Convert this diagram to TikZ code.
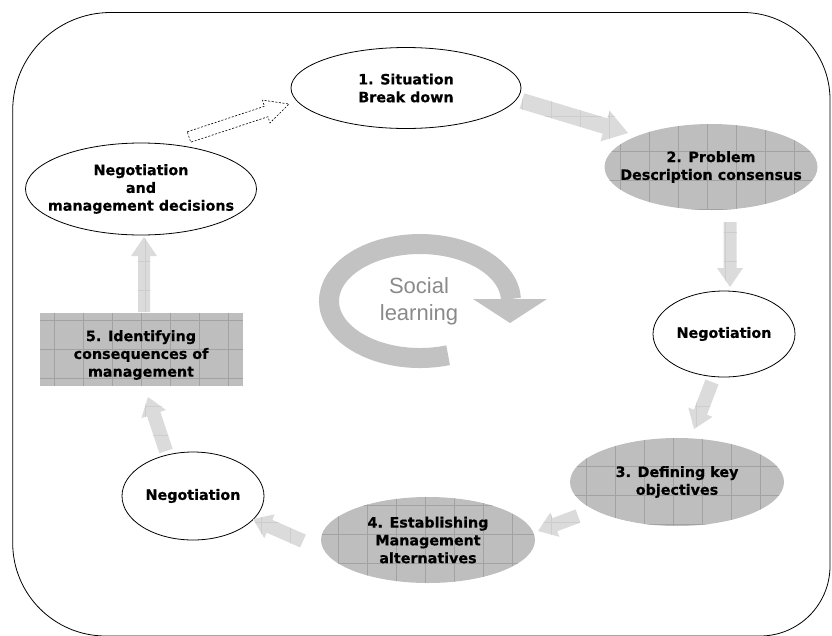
\documentclass[tikz,border=0pt]{standalone}
\usepackage{fontspec}
\setmainfont{DejaVu Sans}[BoldFont={DejaVu Sans Bold}]
\newfontfamily\arialf{Liberation Sans}
\newfontfamily\nodefont{DejaVu Sans Bold}[FakeBold=0.5]
\usetikzlibrary{shapes.geometric,calc}
\definecolor{texgray}{HTML}{BEBEBE}
\definecolor{texgrid}{HTML}{A2A2A2}
\definecolor{arrgray}{HTML}{DBDBDB}
\definecolor{arrgrid}{HTML}{CDCDCD}
\definecolor{ringgray}{HTML}{C2C2C2}
\definecolor{socgray}{HTML}{8A8A8A}
\tikzset{
  lbl/.style={font=\nodefont\fontsize{14.3}{17.8}\selectfont, align=center, text=black},
  whiteell/.style={ellipse, draw=black, line width=0.8pt, fill=white, inner sep=-20pt, lbl},
  gridpic/.style={path picture={\draw[#1, line width=0.5pt, step=29pt]
      (path picture bounding box.south west) grid (path picture bounding box.north east);}},
  grayell/.style={ellipse, fill=texgray, inner sep=-20pt, gridpic=texgrid, lbl},
  grayrect/.style={rectangle, fill=texgray, inner sep=0pt, gridpic=texgrid},
  arrfill/.style={fill=arrgray, gridpic=arrgrid},
  dasharr/.style={draw=black, fill=white, line width=0.6pt, dash pattern=on 2pt off 1.6pt},
}
% #1 style, #2 from, #3 to, #4 shaft half width, #5 head half width, #6 head length
\newcommand{\blockarr}[6]{%
  \coordinate (ba-h) at ($(#3)!#6!(#2)$);
  \path[#1] ($(#2)!#4!90:(#3)$) -- ($(ba-h)!#4!90:(#3)$) -- ($(ba-h)!#5!90:(#3)$)
    -- (#3) -- ($(ba-h)!#5!-90:(#3)$) -- ($(ba-h)!#4!-90:(#3)$) -- ($(#2)!#4!-90:(#3)$) -- cycle;
}
\begin{document}
\begin{tikzpicture}[x=1pt,y=-1pt]
\useasboundingbox (0,0) rectangle (832,635);
\clip (0,0) rectangle (832,635);

% outer frame
\draw[line width=0.8pt] (110.7,12.5) -- (743,12.5)
  arc[start angle=-90, end angle=0, radius=87]
  -- (830,566) arc[start angle=0, end angle=90, radius=70]
  -- (105.7,636) arc[start angle=90, end angle=180, radius=93]
  -- (12.7,110.5) arc[start angle=180, end angle=270, radius=98] -- cycle;

% nodes
\node[whiteell, minimum width=230pt, minimum height=81pt] (sit) at (406,88) {1. Situation\\Break down};
\node[grayell, minimum width=213pt, minimum height=86pt] (prob) at (711,167) {2. Problem\\Description consensus};
\node[whiteell, minimum width=142pt, minimum height=86pt] (negR) at (724,334) {Negotiation};
\node[grayell, minimum width=214pt, minimum height=88pt] (def) at (677,482) {3. Defining key\\objectives};
\node[grayell, minimum width=214pt, minimum height=86pt] (est) at (428,540) {4. Establishing\\Management\\alternatives};
\node[whiteell, minimum width=142pt, minimum height=88pt] (negL) at (193,496) {Negotiation};
\node[grayrect, minimum width=203pt, minimum height=73pt] (ident) at (141.5,349.5) {};
\node[lbl] (identtxt) at (141,355) {5. Identifying\\consequences of\\management};
\node[whiteell, minimum width=231pt, minimum height=92pt] (dec) at (141,189) {Negotiation\\and\\management decisions};

% arrow end points
\coordinate (a1s) at (522,101);
\coordinate (a1e) at (628,133);
\coordinate (a2s) at (730,222);
\coordinate (a2e) at (730,287);
\coordinate (a3s) at (712,382);
\coordinate (a3e) at (694,429);
\coordinate (a4s) at (578,516);
\coordinate (a4e) at (538,531);
\coordinate (a5s) at (303,541);
\coordinate (a5e) at (253,519);
\coordinate (a6s) at (166,451);
\coordinate (a6e) at (148,397);
\coordinate (a7s) at (144,312);
\coordinate (a7e) at (144,237);
\coordinate (a8s) at (189,137);
\coordinate (a8e) at (289,104);

\blockarr{arrfill}{a1s}{a1e}{8pt}{16pt}{24pt}
\blockarr{arrfill}{a2s}{a2e}{6.5pt}{13pt}{19pt}
\blockarr{arrfill}{a3s}{a3e}{7pt}{13pt}{18pt}
\blockarr{arrfill}{a4s}{a4e}{7pt}{13pt}{18pt}
\blockarr{arrfill}{a5s}{a5e}{7pt}{13pt}{18pt}
\blockarr{arrfill}{a6s}{a6e}{7pt}{13pt}{18pt}
\blockarr{arrfill}{a7s}{a7e}{6pt}{13pt}{19pt}
\blockarr{dasharr}{a8s}{a8e}{5.5pt}{12pt}{24pt}

% social learning cycle
\coordinate (ringc) at (420,301);
\draw[ringgray, line width=20pt] (ringc) ++(72:91 and 57)
  arc[start angle=72, end angle=358, x radius=91, y radius=57];
\coordinate (th1) at (473,299);
\coordinate (th2) at (547,299);
\coordinate (th3) at (510,323);
\fill[ringgray] (th1) -- (th2) -- (th3) -- cycle;
\node[font=\arialf\fontsize{22}{27}\selectfont, text=socgray, align=center] (soc) at (419,301) {Social\\learning};
\end{tikzpicture}
\end{document}
